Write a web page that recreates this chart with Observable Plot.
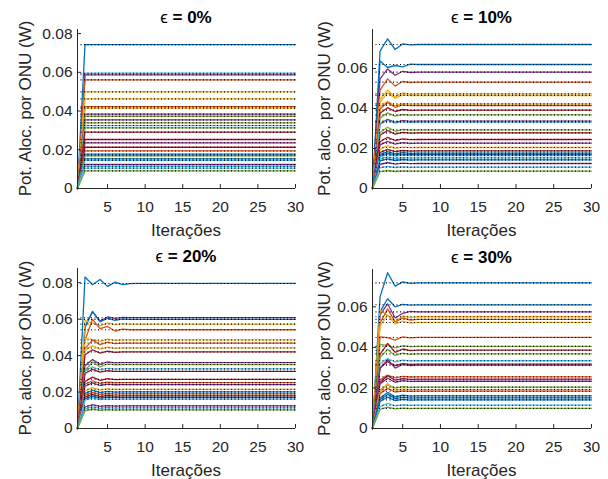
<!DOCTYPE html>
<html><head><meta charset="utf-8">
<script src="https://cdn.jsdelivr.net/npm/d3@7"></script>
<script src="https://cdn.jsdelivr.net/npm/@observablehq/plot@0.6"></script>
<style>
body{margin:0;background:#fff;}
#grid{display:grid;grid-template-columns:304px 304px;grid-template-rows:240px 239px;width:608px;height:479px;}
#grid svg{display:block;}
</style></head><body><div id="grid"></div>
<script>
// ---------- data ----------
const iterations = d3.range(1, 31);
const xTicks = [5, 10, 15, 20, 25, 30];
const yTicksA = [0, 0.02, 0.04, 0.06, 0.08];
const yTicksB = [0, 0.02, 0.04, 0.06];
const titles = ["0%", "10%", "20%", "30%"];
const yLabels = ["Pot. Aloc. por ONU (W)", "Pot. aloc. por ONU (W)", "Pot. aloc. por ONU (W)", "Pot. aloc. por ONU (W)"];
const xLabel = "Iterações";
const palette = {B:"#0072BD", O:"#D95319", Y:"#EDB120", P:"#7E2F8E", G:"#77AC30", C:"#4DBEEE", R:"#A2142F"};

// ε = 0% : each ONU goes from 0 (iteration 1) to its final level (iteration 2) and stays
const eps0Final = [0.0743,0.0595,0.0587,0.0561,0.0499,0.0463,0.0422,0.0415,0.0384,0.0373,0.0354,0.0339,0.0325,0.0313,0.0291,0.0253,0.0236,0.0213,0.0194,0.0177,0.0169,0.0153,0.0145,0.0124,0.0115,0.0105,0.0091];
const eps0Colors = ["B","C","P","O","Y","Y","O","Y","P","G","P","G","C","G","R","R","P","R","O","B","G","B","C","P","C","C","G"];

// ε = 10% : values for the first iterations; the last value holds until iteration 30
const eps10Series = [
[0,0.0687,0.0748,0.0695,0.0723,0.0718,0.0720],
[0,0.0637,0.0605,0.0615,0.0608,0.0622,0.0620],
[0,0.0548,0.0598,0.0566,0.0586,0.0580,0.0582],
[0,0.0492,0.0548,0.0512,0.0536,0.0530,0.0532],
[0,0.0445,0.0492,0.0458,0.0478,0.0471,0.0473],
[0,0.0432,0.0478,0.0452,0.0468,0.0464,0.0465],
[0,0.0408,0.0436,0.0414,0.0426,0.0422,0.0423],
[0,0.0398,0.0430,0.0406,0.0418,0.0414,0.0415],
[0,0.0376,0.0404,0.0385,0.0395,0.0391,0.0392],
[0,0.0352,0.0378,0.0362,0.0370,0.0367,0.0368],
[0,0.0324,0.0346,0.0331,0.0339,0.0336,0.0337],
[0,0.0320,0.0341,0.0327,0.0334,0.0331,0.0332],
[0,0.0280,0.0306,0.0286,0.0296,0.0292,0.0293],
[0,0.0266,0.0290,0.0272,0.0281,0.0277,0.0278],
[0,0.0234,0.0256,0.0240,0.0248,0.0244,0.0245],
[0,0.0218,0.0236,0.0222,0.0229,0.0226,0.0227],
[0,0.0196,0.0214,0.0201,0.0207,0.0204,0.0205],
[0,0.0180,0.0196,0.0184,0.0190,0.0187,0.0188],
[0,0.0170,0.0184,0.0173,0.0179,0.0176,0.0177],
[0,0.0164,0.0176,0.0167,0.0171,0.0169,0.0170],
[0,0.0158,0.0171,0.0162,0.0167,0.0164,0.0165],
[0,0.0147,0.0158,0.0150,0.0154,0.0152,0.0153],
[0,0.0138,0.0148,0.0140,0.0145,0.0142,0.0143],
[0,0.0120,0.0130,0.0122,0.0127,0.0124,0.0125],
[0,0.0103,0.0111,0.0105,0.0108,0.0106,0.0107],
[0,0.0084,0.0090,0.0085,0.0088,0.0087,0.0087]];
const eps10Colors = ["B","B","P","O","Y","Y","Y","O","R","G","P","C","G","R","R","P","Y","R","B","B","C","C","B","P","C","G"];

// ε = 20%
const eps20Series = [
[0,0.0831,0.0789,0.0818,0.0780,0.0803,0.0789,0.0795,0.0796],
[0,0.0560,0.0640,0.0590,0.0612,0.0604,0.0610,0.0608],
[0,0.0555,0.0643,0.0585,0.0605,0.0594,0.0601,0.0599],
[0,0.0593,0.0578,0.0563,0.0580,0.0570,0.0575,0.0573],
[0,0.0484,0.0599,0.0548,0.0560,0.0535,0.0545,0.0542],
[0,0.0495,0.0488,0.0478,0.0490,0.0484,0.0486],
[0,0.0440,0.0485,0.0460,0.0474,0.0466,0.0469],
[0,0.0430,0.0455,0.0436,0.0446,0.0440,0.0442],
[0,0.0405,0.0432,0.0414,0.0424,0.0418,0.0420],
[0,0.0345,0.0378,0.0352,0.0366,0.0360,0.0362],
[0,0.0320,0.0365,0.0338,0.0355,0.0349,0.0351],
[0,0.0315,0.0338,0.0322,0.0330,0.0326,0.0327],
[0,0.0302,0.0325,0.0309,0.0317,0.0313,0.0314],
[0,0.0258,0.0282,0.0264,0.0274,0.0268,0.0270],
[0,0.0243,0.0262,0.0247,0.0255,0.0251,0.0252],
[0,0.0232,0.0250,0.0236,0.0244,0.0240,0.0241],
[0,0.0206,0.0224,0.0210,0.0218,0.0214,0.0215],
[0,0.0193,0.0210,0.0197,0.0204,0.0200,0.0201],
[0,0.0182,0.0198,0.0186,0.0192,0.0189,0.0190],
[0,0.0172,0.0187,0.0175,0.0181,0.0178,0.0179],
[0,0.0163,0.0178,0.0166,0.0172,0.0169,0.0170],
[0,0.0155,0.0168,0.0158,0.0163,0.0160,0.0161],
[0,0.0118,0.0131,0.0121,0.0126,0.0123,0.0124],
[0,0.0108,0.0119,0.0110,0.0115,0.0112,0.0113],
[0,0.0097,0.0107,0.0099,0.0104,0.0101,0.0102]];
const eps20Colors = ["B","P","B","Y","O","Y","O","Y","R","P","G","C","R","R","O","P","Y","B","O","R","B","C","P","C","G"];

// ε = 30%
const eps30Series = [
[0,0.0649,0.0768,0.0702,0.0723,0.0716,0.0718],
[0,0.0575,0.0640,0.0600,0.0612,0.0608,0.0610],
[0,0.0560,0.0615,0.0545,0.0568,0.0578,0.0575],
[0,0.0584,0.0557,0.0526,0.0555,0.0548,0.0551],
[0,0.0520,0.0590,0.0525,0.0545,0.0535,0.0538],
[0,0.0505,0.0560,0.0515,0.0530,0.0520,0.0523],
[0,0.0452,0.0448,0.0436,0.0452,0.0447,0.0449],
[0,0.0415,0.0410,0.0398,0.0408,0.0404,0.0405],
[0,0.0365,0.0420,0.0375,0.0392,0.0384,0.0386],
[0,0.0350,0.0390,0.0360,0.0372,0.0366,0.0368],
[0,0.0320,0.0345,0.0328,0.0337,0.0333,0.0334],
[0,0.0300,0.0330,0.0310,0.0320,0.0316,0.0317],
[0,0.0296,0.0340,0.0298,0.0316,0.0310,0.0312],
[0,0.0240,0.0263,0.0250,0.0257,0.0254,0.0255],
[0,0.0228,0.0260,0.0238,0.0246,0.0242,0.0243],
[0,0.0220,0.0248,0.0228,0.0236,0.0232,0.0233],
[0,0.0190,0.0215,0.0199,0.0206,0.0203,0.0204],
[0,0.0180,0.0222,0.0188,0.0195,0.0191,0.0192],
[0,0.0172,0.0198,0.0180,0.0186,0.0183,0.0184],
[0,0.0150,0.0178,0.0156,0.0164,0.0160,0.0161],
[0,0.0142,0.0168,0.0147,0.0154,0.0150,0.0151],
[0,0.0133,0.0155,0.0138,0.0144,0.0140,0.0141],
[0,0.0108,0.0124,0.0112,0.0117,0.0114,0.0115],
[0,0.0094,0.0105,0.0097,0.0100,0.0098,0.0099]];
const eps30Colors = ["B","B","P","Y","O","Y","O","G","R","G","C","R","P","O","R","P","G","Y","O","B","B","B","C","G"];

// ---------- drawing ----------
const font = "'Liberation Sans', Arial, Helvetica, sans-serif";

function panel({title, ylabel, series, colors, ymax, yticks, height, ml, mr, mt, mb, ylabelX}) {
  const rows = [];
  series.forEach((s, k) => {
    iterations.forEach((it, i) => rows.push({k, x: it, y: s[Math.min(i, s.length - 1)], c: palette[colors[k]]}));
  });
  const finals = series.map(s => s[s.length - 1]);
  const svg = Plot.plot({
    width: 304, height,
    marginLeft: ml, marginRight: mr, marginTop: mt, marginBottom: mb,
    style: {fontFamily: font, color: "#262626", background: "white", overflow: "visible"},
    x: {domain: [1, 30]},
    y: {domain: [0, ymax]},
    marks: [
      Plot.line(rows, {x: "x", y: "y", z: "k", stroke: "c", strokeWidth: 1.3}),
      Plot.ruleY(finals, {x1: 1, x2: 30, stroke: "black", strokeDasharray: "1,2.5", strokeWidth: 1.1}),
      Plot.ruleY([0], {stroke: "#262626"}),
      Plot.ruleX([1], {stroke: "#262626"}),
      Plot.axisX({ticks: xTicks, tickSize: -4, tickPadding: 16, fontSize: 15.5, label: null, tickFormat: d => String(d)}),
      Plot.axisY({ticks: yticks, tickSize: -4, tickPadding: 9, fontSize: 15.5, label: null, tickFormat: d => String(d)})
    ]
  });
  const s = d3.select(svg);
  const plotBottom = height - mb;
  // x-axis label
  s.append("text")
    .attr("x", ml + (304 - ml - mr) / 2).attr("y", plotBottom + 48)
    .attr("text-anchor", "middle")
    .attr("font-family", font).attr("font-size", 17).attr("fill", "#262626")
    .text(xLabel);
  // y-axis label, rotated
  const cy = mt + (height - mt - mb) / 2;
  s.append("text")
    .attr("transform", `translate(${ylabelX},${cy}) rotate(-90)`)
    .attr("text-anchor", "middle").attr("dy", "0.35em")
    .attr("font-family", font).attr("font-size", 17).attr("fill", "#262626")
    .text(ylabel);
  // title with a normal-weight epsilon and a bold remainder
  const cx = ml + (304 - ml - mr) / 2;
  const t = s.append("text")
    .attr("x", cx).attr("y", mt - 6)
    .attr("text-anchor", "middle")
    .attr("font-family", font).attr("font-size", 17).attr("fill", "black");
  t.append("tspan").attr("font-weight", "normal").text("ϵ ");
  t.append("tspan").attr("font-weight", "bold").text("= " + title);
  return svg;
}

const grid = document.getElementById("grid");
grid.append(panel({title: titles[0], ylabel: yLabels[0], series: eps0Final.map(v => [0, v]), colors: eps0Colors,
  ymax: 0.0821, yticks: yTicksA, height: 240, ml: 77, mr: 9, mt: 29, mb: 52, ylabelX: 25}));
grid.append(panel({title: titles[1], ylabel: yLabels[1], series: eps10Series, colors: eps10Colors,
  ymax: 0.0795, yticks: yTicksB, height: 240, ml: 68, mr: 17, mt: 29, mb: 52, ylabelX: 20}));
grid.append(panel({title: titles[2], ylabel: yLabels[2], series: eps20Series, colors: eps20Colors,
  ymax: 0.0878, yticks: yTicksA, height: 239, ml: 77, mr: 9, mt: 28, mb: 51, ylabelX: 25}));
grid.append(panel({title: titles[3], ylabel: yLabels[3], series: eps30Series, colors: eps30Colors,
  ymax: 0.0784, yticks: yTicksB, height: 239, ml: 68, mr: 17, mt: 29, mb: 51, ylabelX: 20}));
</script></body></html>
